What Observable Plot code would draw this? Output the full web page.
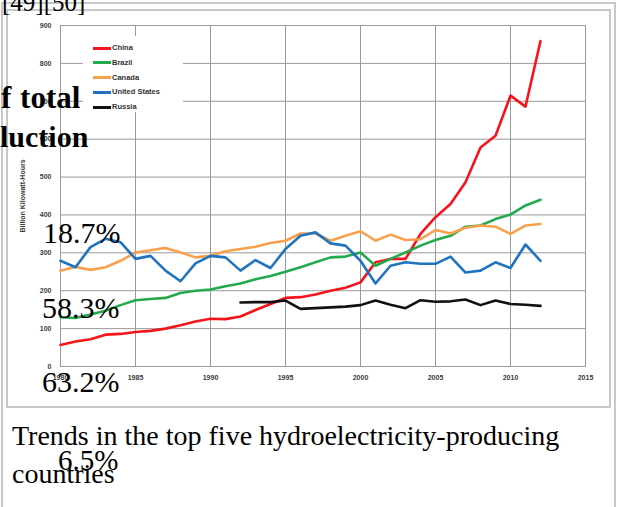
<!DOCTYPE html>
<html><head><meta charset="utf-8">
<script src="https://cdn.jsdelivr.net/npm/d3@7"></script>
<script src="https://cdn.jsdelivr.net/npm/@observablehq/plot@0.6"></script>
<style>
body{margin:0;background:#fff;overflow:hidden}
#page{position:relative;width:617px;height:507px;overflow:hidden;font-family:"Liberation Serif","Times New Roman",serif;color:#000}
.abs{position:absolute;white-space:nowrap;line-height:1}
.lg{position:absolute;left:10px;font:bold 7.5px "Liberation Sans",Arial,sans-serif;color:#333;line-height:1}
.lg span{display:inline-block;width:18px;height:3px;vertical-align:middle;margin-right:1px}
</style></head><body><div id="page">
<div class="abs" style="left:1px;top:2px;width:611px;height:520px;border:2px solid #c8c8c8;border-bottom:none"></div>
<div class="abs" style="left:6px;top:9px;width:601px;height:395px;border:2px solid #c8c8c8"></div>
<div id="chart" class="abs" style="left:0;top:0"></div>
<div id="legend" class="abs" style="left:83px;top:36px;width:100px;height:76px;background:#fff"></div>
<div class="abs" style="left:2px;top:-10px;font-size:25px">[49][50]</div>
<div class="abs" style="left:1px;top:82px;font-size:31px;font-weight:bold;word-spacing:1px">f total</div>
<div class="abs" style="left:0px;top:122px;font-size:30px;font-weight:bold">luction</div>
<div class="abs" style="left:43px;top:218px;font-size:30px">18.7%</div>
<div class="abs" style="left:42px;top:293px;font-size:30px">58.3%</div>
<div class="abs" style="left:42px;top:367px;font-size:30px">63.2%</div>
<div class="abs" style="left:12px;top:421.5px;font-size:28px">Trends in the top five hydroelectricity-producing</div>
<div class="abs" style="left:12px;top:459.5px;font-size:28px">countries</div>
<div class="abs" style="left:58px;top:445.5px;font-size:29px">6.5%</div>
</div>
<script>
const years = [1980,1981,1982,1983,1984,1985,1986,1987,1988,1989,1990,1991,1992,1993,1994,1995,1996,1997,1998,1999,2000,2001,2002,2003,2004,2005,2006,2007,2008,2009,2010,2011,2012];
const china  = [57,66,72,84,86,91,94,100,109,119,126,125,132,149,165,181,183,190,200,208,222,275,284,284,350,394,429,486,578,609,715,686,859];
const brazil = [130,128,137,147,162,175,178,181,194,200,203,212,219,230,239,250,262,275,288,290,301,266,284,301,319,334,345,369,372,389,401,425,440];
const canada = [253,263,255,262,279,301,307,313,301,288,292,304,310,316,326,332,351,351,332,345,357,332,348,334,336,360,351,366,372,369,350,372,376];
const usa    = [279,262,315,337,328,284,292,253,225,272,292,288,253,281,260,310,345,354,325,319,279,219,266,275,271,271,290,248,253,275,260,322,279];
const russia = [null,null,null,null,null,null,null,null,null,null,null,null,169,170,170,174,152,154,156,158,162,174,163,154,175,171,172,177,162,174,165,163,160];
const countries = ["China","Brazil","Canada","United States","Russia"];
const colors = ["#f5141b","#22aa4c","#f7a04e","#1f74bf","#111111"];
const xTicks = [1980,1985,1990,1995,2000,2005,2010,2015];
const yTicks = [0,100,200,300,400,500,600,700,800,900];

const seriesValues = [china, brazil, canada, usa, russia];
const rows = [];
countries.forEach((c, i) => years.forEach((y, j) => rows.push({country: c, year: y, value: seriesValues[i][j]})));

const chart = Plot.plot({
  width: 617, height: 410,
  marginLeft: 60, marginRight: 32, marginTop: 25, marginBottom: 44,
  style: {fontFamily: "'Liberation Sans', Arial, sans-serif", fontSize: "7px", fontWeight: "bold", color: "#3a3a3a", background: "transparent"},
  x: {domain: [1980, 2015]},
  y: {domain: [0, 900]},
  color: {domain: countries, range: colors},
  marks: [
    Plot.gridX(xTicks, {stroke: "#9a9a9a", strokeOpacity: 1}),
    Plot.gridY(yTicks, {stroke: "#9a9a9a", strokeOpacity: 1}),
    Plot.frame({stroke: "#9a9a9a"}),
    Plot.axisX({ticks: xTicks, tickFormat: d => String(d), tickSize: 0, tickPadding: 9, label: null}),
    Plot.axisY({ticks: yTicks, tickSize: 0, tickPadding: 9, label: "Billion Kilowatt-Hours", labelAnchor: "center", labelOffset: 40, labelArrow: "none"}),
    Plot.line(rows, {x: "year", y: "value", z: "country", stroke: "country", strokeWidth: 2.6, strokeLinejoin: "round", strokeLinecap: "round"})
  ]
});
document.getElementById("chart").appendChild(chart);

const legend = document.getElementById("legend");
countries.forEach((c, i) => {
  const d = document.createElement("div");
  d.className = "lg";
  d.style.top = (8 + i * 14.75) + "px";
  d.innerHTML = `<span style="background:${colors[i]}"></span>${c}`;
  legend.appendChild(d);
});
</script>
</body></html>
